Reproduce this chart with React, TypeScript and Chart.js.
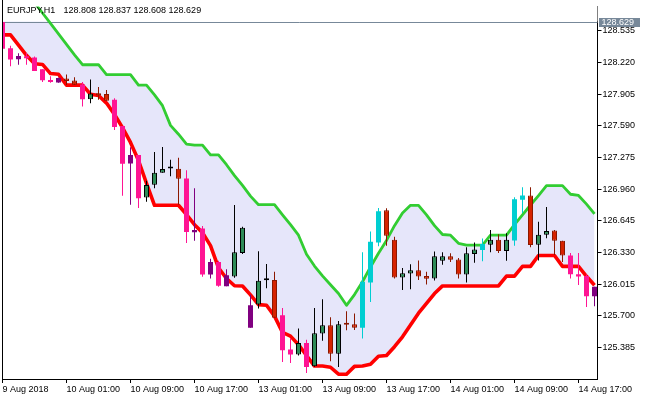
import React, { useEffect, useRef } from 'react';
import { Chart, registerables } from 'chart.js';

Chart.register(...registerables);

const symbolLabel = 'EURJPY,H1';
const titleOHLC = [128.808, 128.837, 128.608, 128.629];
const currentPrice = 128.629;

const xTickBars = [0, 8, 16, 24, 32, 40, 48, 56, 64, 72];
const xTickLabels = ['9 Aug 2018', '10 Aug 01:00', '10 Aug 09:00', '10 Aug 17:00', '13 Aug 01:00', '13 Aug 09:00', '13 Aug 17:00', '14 Aug 01:00', '14 Aug 09:00', '14 Aug 17:00'];
const yTicks = [125.385, 125.7, 126.015, 126.33, 126.645, 126.96, 127.275, 127.59, 127.905, 128.22, 128.535];

const opens = [
  128.625, 128.362, 128.287, 128.283, 128.271, 128.153, 128.045, 128.068, 128.062, 128.043,
  128.001, 127.854, 127.915, 127.908, 127.850, 127.588, 127.301, 127.301, 126.877, 127.004,
  127.122, 127.168, 127.164, 127.066, 126.554, 126.567, 126.234, 126.234, 126.103, 126.090,
  126.325, 125.803, 125.810, 126.055, 126.054, 125.705, 125.362, 125.313, 125.427, 125.195,
  125.522, 125.604, 125.320, 125.626, 125.614, 125.580, 126.031, 126.429, 126.750, 126.456,
  126.080, 126.119, 126.152, 126.096, 126.070, 126.246, 126.292, 126.260, 126.109, 126.315,
  126.354, 126.407, 126.456, 126.344, 126.449, 126.854, 126.897, 126.407, 126.505, 126.547,
  126.446, 126.299, 126.113, 126.096, 125.989,
];
const highs = [
  128.632, 128.388, 128.313, 128.317, 128.281, 128.153, 128.085, 128.072, 128.101, 128.075,
  128.026, 128.053, 127.977, 127.948, 127.866, 127.588, 127.377, 127.301, 127.044, 127.330,
  127.379, 127.252, 127.272, 127.147, 126.968, 126.593, 126.266, 126.246, 126.162, 126.802,
  126.586, 125.907, 126.341, 126.214, 126.136, 125.776, 125.475, 125.571, 125.460, 125.776,
  125.864, 125.685, 125.646, 125.744, 125.721, 126.332, 126.537, 126.772, 126.769, 126.485,
  126.175, 126.211, 126.250, 126.136, 126.338, 126.331, 126.322, 126.273, 126.380, 126.429,
  126.469, 126.554, 126.511, 126.521, 126.880, 126.978, 126.978, 126.635, 126.782, 126.554,
  126.446, 126.325, 126.325, 126.109, 125.989,
];
const lows = [
  128.356, 128.185, 128.199, 128.199, 128.137, 128.026, 128.019, 128.019, 127.996, 127.996,
  127.784, 127.815, 127.850, 127.840, 127.549, 126.893, 126.805, 126.772, 126.834, 126.968,
  127.122, 127.089, 126.805, 126.423, 126.446, 126.087, 126.070, 125.989, 125.992, 126.077,
  126.315, 125.580, 125.770, 125.972, 125.678, 125.238, 125.228, 125.303, 125.130, 125.190,
  125.450, 125.247, 125.189, 125.555, 125.558, 125.473, 125.835, 126.390, 126.397, 126.070,
  125.956, 125.962, 126.054, 126.011, 126.050, 126.207, 126.234, 126.070, 126.031, 126.227,
  126.243, 126.331, 126.325, 126.246, 126.397, 126.723, 126.380, 126.250, 126.472, 126.305,
  126.234, 126.070, 126.005, 125.786, 125.793,
];
const closes = [
  128.359, 128.251, 128.254, 128.264, 128.137, 128.045, 128.026, 128.023, 128.036, 127.999,
  127.854, 127.913, 127.892, 127.840, 127.578, 127.213, 127.216, 126.870, 127.000, 127.122,
  127.161, 127.165, 127.063, 126.534, 126.530, 126.109, 126.109, 125.998, 125.992, 126.331,
  126.576, 125.580, 126.047, 126.053, 125.678, 125.355, 125.313, 125.427, 125.189, 125.525,
  125.604, 125.320, 125.614, 125.610, 125.580, 126.038, 126.436, 126.740, 126.495, 126.080,
  126.123, 126.152, 126.090, 126.067, 126.292, 126.292, 126.256, 126.109, 126.322, 126.358,
  126.413, 126.456, 126.344, 126.456, 126.860, 126.897, 126.403, 126.505, 126.544, 126.446,
  126.299, 126.113, 126.090, 125.894, 125.894,
];
const kinds = [
  'pink', 'pink', 'purple', 'pink', 'pink', 'pink', 'pink', 'purple', 'red', 'red',
  'pink', 'green', 'red', 'red', 'pink', 'pink', 'purple', 'pink', 'green', 'green',
  'green', 'green', 'red', 'pink', 'purple', 'pink', 'purple', 'pink', 'purple', 'green',
  'green', 'purple', 'green', 'green', 'red', 'pink', 'pink', 'green', 'pink', 'green',
  'green', 'red', 'green', 'red', 'red', 'cyan', 'cyan', 'cyan', 'red', 'red',
  'green', 'green', 'red', 'red', 'green', 'green', 'red', 'red', 'green', 'green',
  'cyan', 'green', 'red', 'green', 'cyan', 'cyan', 'red', 'green', 'green', 'red',
  'red', 'pink', 'pink', 'pink', 'purple',
];
const upperBand = [
  129.237, 129.133, 129.028, 128.924, 128.819, 128.714, 128.611, 128.506, 128.401, 128.297,
  128.199, 128.199, 128.199, 128.101, 128.101, 128.101, 128.101, 127.996, 127.996, 127.899,
  127.791, 127.595, 127.507, 127.409, 127.399, 127.399, 127.301, 127.301, 127.203, 127.095,
  126.997, 126.890, 126.805, 126.805, 126.805, 126.704, 126.606, 126.501, 126.312, 126.194,
  126.096, 126.008, 125.920, 125.803, 125.910, 126.038, 126.185, 126.322, 126.449, 126.596,
  126.723, 126.799, 126.799, 126.704, 126.596, 126.508, 126.501, 126.420, 126.403, 126.403,
  126.403, 126.501, 126.501, 126.501, 126.606, 126.704, 126.802, 126.895, 126.995, 126.995,
  126.995, 126.909, 126.897, 126.811, 126.714,
];
const lowerBand = [
  128.496, 128.496, 128.395, 128.293, 128.209, 128.202, 128.111, 128.104, 127.996, 127.996,
  127.996, 127.905, 127.892, 127.817, 127.703, 127.572, 127.425, 127.245, 127.017, 126.799,
  126.799, 126.799, 126.799, 126.707, 126.606, 126.527, 126.397, 126.175, 126.070, 125.998,
  125.996, 125.907, 125.810, 125.803, 125.695, 125.533, 125.496, 125.411, 125.303, 125.198,
  125.198, 125.186, 125.117, 125.117, 125.195, 125.198, 125.215, 125.296, 125.303, 125.391,
  125.489, 125.607, 125.724, 125.822, 125.920, 125.996, 125.996, 125.996, 125.996, 125.996,
  125.996, 125.996, 125.996, 126.094, 126.094, 126.191, 126.191, 126.299, 126.299, 126.299,
  126.191, 126.191, 126.191, 126.092, 126.003,
];

const palette: Record<string, { fill: string; border: string; wick: string; bw: number }> = {
  pink: { fill: '#FF1493', border: '#FF1493', wick: '#FF1493', bw: 0 },
  purple: { fill: '#800080', border: '#800080', wick: '#800080', bw: 0 },
  cyan: { fill: '#00CED1', border: '#00CED1', wick: '#00CED1', bw: 0 },
  green: { fill: '#2E8B57', border: '#000000', wick: '#000000', bw: 1 },
  red: { fill: '#D62300', border: '#8B1800', wick: '#8B1800', bw: 1 },
};

const FONT = 'Liberation Sans';

export default function App() {
  const ref = useRef<HTMLCanvasElement>(null);

  useEffect(() => {
    const canvas = ref.current;
    if (!canvas) return;

    const overlay = {
      id: 'overlay',
      beforeDatasetsDraw(chart: any) {
        const { ctx, chartArea: a, scales } = chart;
        const py = scales.y.getPixelForValue(currentPrice);
        ctx.save();
        ctx.fillStyle = '#ffffff';
        ctx.fillRect(a.left, 0, a.right - a.left, py);
        ctx.strokeStyle = '#778899';
        ctx.lineWidth = 1;
        ctx.beginPath();
        ctx.moveTo(a.left, Math.round(py) + 0.5);
        ctx.lineTo(a.right, Math.round(py) + 0.5);
        ctx.stroke();
        ctx.restore();
      },
      afterDatasetsDraw(chart: any) {
        const { ctx, chartArea: a } = chart;
        ctx.save();
        ctx.fillStyle = '#000000';
        ctx.fillRect(a.left, 0, 1, a.bottom);
        ctx.font = `9px "${FONT}"`;
        ctx.textBaseline = 'alphabetic';
        ctx.textAlign = 'left';
        ctx.fillText(symbolLabel, 7, 12.5);
        ctx.fillText(titleOHLC.map((v) => v.toFixed(3)).join(' '), 63.5, 12.5);
        ctx.restore();
      },
      afterDraw(chart: any) {
        const { ctx, chartArea: a, scales } = chart;
        const py = Math.round(scales.y.getPixelForValue(currentPrice));
        ctx.save();
        ctx.fillStyle = '#778899';
        ctx.fillRect(a.right + 1.5, py - 4, 41, 9);
        ctx.fillStyle = '#ffffff';
        ctx.font = `9px "${FONT}"`;
        ctx.textBaseline = 'middle';
        ctx.textAlign = 'left';
        ctx.fillText(currentPrice.toFixed(3), a.right + 4, py + 0.5);
        ctx.restore();
      },
    };

    const idx = opens.map((_, i) => i);

    const chart = new Chart(canvas, {
      type: 'bar',
      data: {
        datasets: [
          {
            type: 'line',
            label: 'upper',
            data: idx.map((i) => ({ x: i, y: upperBand[i] })),
            borderColor: '#32CD32',
            backgroundColor: '#E6E6FA',
            borderWidth: 2.8,
            pointRadius: 0,
            tension: 0,
            fill: '+1',
            borderJoinStyle: 'round',
            order: 3,
          } as any,
          {
            type: 'line',
            label: 'lower',
            data: idx.map((i) => ({ x: i, y: lowerBand[i] })),
            borderColor: '#FF0000',
            backgroundColor: '#E6E6FA',
            borderWidth: 3.6,
            pointRadius: 0,
            tension: 0,
            fill: false,
            borderJoinStyle: 'round',
            order: 2,
          } as any,
          {
            type: 'bar',
            label: 'wicks',
            data: idx.map((i) => ({ x: i, y: [lows[i], highs[i]] })),
            backgroundColor: idx.map((i) => palette[kinds[i]].wick),
            borderWidth: 0,
            barThickness: 1,
            grouped: false,
            inflateAmount: 0,
            order: 1,
          } as any,
          {
            type: 'bar',
            label: 'bodies',
            data: idx.map((i) => ({ x: i, y: [opens[i], closes[i]] })),
            backgroundColor: idx.map((i) => palette[kinds[i]].fill),
            borderColor: idx.map((i) => palette[kinds[i]].border),
            borderWidth: idx.map((i) => palette[kinds[i]].bw),
            borderSkipped: false,
            barThickness: 5,
            minBarLength: 2,
            grouped: false,
            inflateAmount: 0,
            order: 0,
          } as any,
        ],
      },
      options: {
        responsive: false,
        animation: false,
        events: [],
        layout: { padding: { left: 2, top: 0, right: 0, bottom: 0 } },
        plugins: {
          legend: { display: false },
          tooltip: { enabled: false },
          filler: { drawTime: 'beforeDatasetsDraw' },
        } as any,
        scales: {
          x: {
            type: 'linear',
            min: -0.0625,
            max: 74.375,
            offset: false,
            afterBuildTicks: (s: any) => {
              s.ticks = xTickBars.map((v) => ({ value: v }));
            },
            afterFit: (s: any) => {
              s.height = 21;
            },
            ticks: {
              autoSkip: false,
              maxRotation: 0,
              minRotation: 0,
              align: 'start',
              padding: 1,
              color: '#000000',
              font: { family: FONT, size: 9 },
              callback: (v: any) => xTickLabels[xTickBars.indexOf(Number(v))] ?? '',
            },
            grid: { drawOnChartArea: false, drawTicks: true, tickLength: 4, tickColor: '#000000', offset: false },
            border: { display: true, color: '#000000', width: 1 },
          },
          y: {
            type: 'linear',
            position: 'right',
            min: 125.069,
            max: 128.78,
            afterBuildTicks: (s: any) => {
              s.ticks = yTicks.map((v) => ({ value: v }));
            },
            afterFit: (s: any) => {
              s.width = 52.5;
            },
            ticks: {
              padding: 1,
              color: '#000000',
              font: { family: FONT, size: 9 },
              callback: (v: any) => Number(v).toFixed(3),
            },
            grid: { drawOnChartArea: false, drawTicks: true, tickLength: 4, tickColor: '#000000' },
            border: { display: true, color: '#000000', width: 1 },
          },
        } as any,
      },
      plugins: [overlay],
    } as any);

    return () => chart.destroy();
  }, []);

  return (
    <div style={{ position: 'fixed', left: 0, top: 0, width: 650, height: 400, background: '#ffffff' }}>
      <canvas ref={ref} width={650} height={400} style={{ display: 'block', width: 650, height: 400 }} />
    </div>
  );
}
